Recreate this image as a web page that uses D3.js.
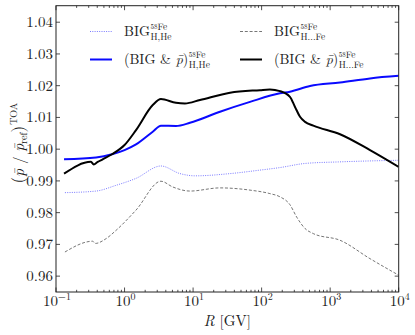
<!DOCTYPE html>
<html>
<head>
<meta charset="utf-8">
<script src="https://cdn.jsdelivr.net/npm/d3@7"></script>
<style>
  body { margin: 0; background: #fff; }
  svg { display: block; }
</style>
</head>
<body>
<svg id="chart" width="415" height="335"></svg>
<script>
// values
const bigHHeR   = [0.135, 0.384, 0.75, 1.47, 3.4, 6.44, 10.7, 34.6, 94.6, 185, 430, 1393, 10000];
const bigHHeV   = [0.9863, 0.9868, 0.9886, 0.9908, 0.9947, 0.9923, 0.9916, 0.9923, 0.9934, 0.9942, 0.9955, 0.9960, 0.9965];

const bigHFeR   = [0.135, 0.343, 0.374, 0.537, 0.75, 1.47, 3.4, 5.04, 9.0, 24.7, 67.7, 132, 185, 259, 325, 430, 568, 1393, 3814, 10000];
const bigHFeV   = [0.9676, 0.9710, 0.9703, 0.9718, 0.9744, 0.9808, 0.9899, 0.9881, 0.9868, 0.9878, 0.9871, 0.9860, 0.9850, 0.9825, 0.9786, 0.9750, 0.9734, 0.9713, 0.9655, 0.9603];

const pbarHHeR  = [0.131, 0.384, 0.656, 1.0, 1.47, 2.58, 3.4, 5.63, 9.0, 24.7, 67.7, 185, 259, 508, 1393, 3814, 10000];
const pbarHHeV  = [0.9968, 0.9974, 0.9984, 0.9997, 1.0015, 1.0055, 1.0074, 1.0073, 1.0083, 1.0118, 1.0149, 1.0176, 1.0181, 1.0199, 1.0210, 1.0223, 1.0231];

const pbarHFeR  = [0.131, 0.324, 0.355, 0.406, 0.48, 0.656, 1.0, 1.47, 2.58, 3.4, 5.63, 7.6, 12.6, 34.6, 94.6, 132, 185, 259, 307, 363, 430, 568, 1393, 3814, 10000];
const pbarHFeV  = [0.9923, 0.9960, 0.9952, 0.9960, 0.9968, 0.9984, 1.0013, 1.0060, 1.0139, 1.0158, 1.0146, 1.0144, 1.0155, 1.0178, 1.0186, 1.0188, 1.0183, 1.0165, 1.0133, 1.0102, 1.0086, 1.0074, 1.0047, 0.9997, 0.9944];

const yTicks = [0.96, 0.97, 0.98, 0.99, 1.00, 1.01, 1.02, 1.03, 1.04];
const xTicks = [0.1, 1, 10, 100, 1000, 10000];
const xTickExp = ["\u22121", "0", "1", "2", "3", "4"];

const FONT = "'Latin Modern Roman', 'Liberation Serif', serif";
const txt = (parent, size) => parent.append("text")
  .style("font-family", FONT)
  .style("font-size", size + "px")
  .attr("fill", "#222");

const svg = d3.select("#chart");
const mLeft = 56, mRight = 398.7, mTop = 5.7, mBottom = 292;

const x = d3.scaleLog().domain([0.1, 1e4]).range([mLeft, mRight]);
const y = d3.scaleLinear().domain([0.955, 1.0452]).range([mBottom, mTop]);

const series = [
  { r: bigHHeR, v: bigHHeV, color: "#6b6bff", width: 0.9, dash: "1,1.3" },
  { r: bigHFeR, v: bigHFeV, color: "#666", width: 0.9, dash: "3,1.8" },
  { r: pbarHHeR, v: pbarHHeV, color: "#0a0aff", width: 2, dash: null },
  { r: pbarHFeR, v: pbarHFeV, color: "#000", width: 2, dash: null }
];

svg.append("defs").append("clipPath").attr("id", "clip")
  .append("rect").attr("x", mLeft).attr("y", mTop)
  .attr("width", mRight - mLeft).attr("height", mBottom - mTop);

const line = d3.line()
  .x(d => x(d[0]))
  .y(d => y(d[1]))
  .curve(d3.curveMonotoneX);

const plot = svg.append("g").attr("clip-path", "url(#clip)");
series.forEach(s => {
  plot.append("path")
    .datum(s.r.map((r, i) => [r, s.v[i]]))
    .attr("d", line)
    .attr("fill", "none")
    .attr("stroke", s.color)
    .attr("stroke-width", s.width)
    .attr("stroke-dasharray", s.dash);
});

// frame + inward ticks on all sides
const axisColor = "#222";
const tk = svg.append("g").attr("stroke", axisColor).attr("stroke-width", 0.8);

yTicks.forEach(t => {
  tk.append("line").attr("x1", mLeft).attr("x2", mLeft + 4).attr("y1", y(t)).attr("y2", y(t));
  tk.append("line").attr("x1", mRight).attr("x2", mRight - 4).attr("y1", y(t)).attr("y2", y(t));
});

const minor = [];
for (let e = -1; e < 4; e++) for (let m = 2; m <= 9; m++) minor.push(m * Math.pow(10, e));
minor.forEach(t => {
  tk.append("line").attr("x1", x(t)).attr("x2", x(t)).attr("y1", mBottom).attr("y2", mBottom - 2.2);
  tk.append("line").attr("x1", x(t)).attr("x2", x(t)).attr("y1", mTop).attr("y2", mTop + 2.2);
});
xTicks.forEach(t => {
  tk.append("line").attr("x1", x(t)).attr("x2", x(t)).attr("y1", mBottom).attr("y2", mBottom - 4.5);
  tk.append("line").attr("x1", x(t)).attr("x2", x(t)).attr("y1", mTop).attr("y2", mTop + 4.5);
});

svg.append("rect")
  .attr("x", mLeft).attr("y", mTop)
  .attr("width", mRight - mLeft).attr("height", mBottom - mTop)
  .attr("fill", "none").attr("stroke", axisColor).attr("stroke-width", 1);

// tick labels
yTicks.forEach(t => {
  txt(svg, 15)
    .attr("x", mLeft - 3)
    .attr("y", y(t) + 5)
    .attr("text-anchor", "end")
    .text(t.toFixed(2));
});

xTicks.forEach((t, i) => {
  const tx = txt(svg, 15).attr("x", x(t)).attr("y", 306);
  tx.append("tspan").text("10");
  tx.append("tspan").attr("dy", -6).style("font-size", "10px").text(xTickExp[i]);
  const w = tx.node().getComputedTextLength();
  tx.attr("x", x(t) - w / 2 + 1);
});

// axis titles
const xl = txt(svg, 15)
  .attr("x", (mLeft + mRight) / 2)
  .attr("y", 326)
  .attr("text-anchor", "middle");
xl.append("tspan").style("font-style", "italic").text("R");
xl.append("tspan").text(" [GV]");

const yl = txt(svg, 15)
  .attr("transform", "translate(24,143) rotate(-90)")
  .attr("text-anchor", "middle");
yl.append("tspan").style("font-size", "17px").text("(");
yl.append("tspan").style("font-style", "italic").text("p\u0304");
yl.append("tspan").text(" / ");
yl.append("tspan").style("font-style", "italic").text("p\u0304");
yl.append("tspan").attr("dy", 3).style("font-size", "10px").text("ref");
yl.append("tspan").attr("dy", -3).style("font-size", "17px").text(")");
yl.append("tspan").attr("dy", -7).attr("dx", 1).style("font-size", "10px").text("TOA");

// legend: base text plus stacked super/subscript, all in one text element
function legendLabel(lx, ly, parts, sub) {
  const t = txt(svg, 14).attr("x", lx).attr("y", ly);
  parts.forEach(p => {
    t.append("tspan").style("font-style", p[1] ? "italic" : "normal").text(p[0]);
  });
  const w = t.node().getComputedTextLength();
  t.append("tspan").attr("x", lx + w + 0.5).attr("dy", -7).style("font-size", "7px").text("58");
  t.append("tspan").attr("dy", 1).style("font-size", "9.5px").text("Fe");
  t.append("tspan").attr("x", lx + w + 0.5).attr("dy", 10).style("font-size", "9.5px").text(sub);
}

const legendItems = [
  { s: series[0], lx: 90, ty: 31.5, parts: [["BIG", false]], sub: "H,He" },
  { s: series[2], lx: 90, ty: 59.5, parts: [["(BIG & ", false], ["p\u0304", true], [")", false]], sub: "H,He" },
  { s: series[1], lx: 240, ty: 31.5, parts: [["BIG", false]], sub: "H...Fe" },
  { s: series[3], lx: 240, ty: 59.5, parts: [["(BIG & ", false], ["p\u0304", true], [")", false]], sub: "H...Fe" }
];

legendItems.forEach(it => {
  svg.append("line")
    .attr("x1", it.lx).attr("x2", it.lx + 22)
    .attr("y1", it.ty).attr("y2", it.ty)
    .attr("stroke", it.s.color)
    .attr("stroke-width", it.s.width)
    .attr("stroke-dasharray", it.s.dash);
  legendLabel(it.lx + 34, it.ty + 4, it.parts, it.sub);
});
</script>
</body>
</html>
